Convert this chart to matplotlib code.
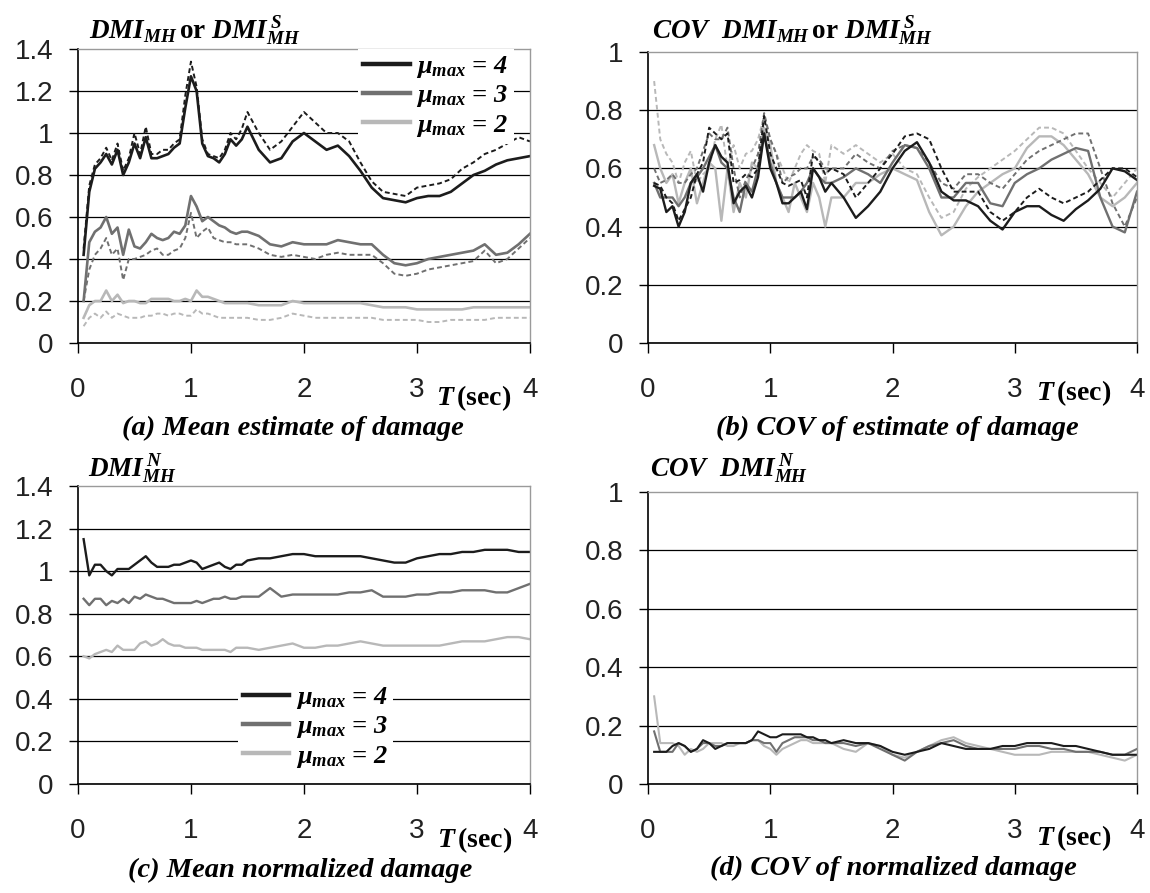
import matplotlib.pyplot as plt
from matplotlib.font_manager import FontProperties
from matplotlib.ticker import FuncFormatter

plt.rcParams['font.family'] = ['Liberation Sans', 'DejaVu Sans']
plt.rcParams['mathtext.fontset'] = 'custom'
plt.rcParams['mathtext.rm'] = 'Liberation Serif:bold'
plt.rcParams['mathtext.it'] = 'Liberation Serif:bold:italic'
plt.rcParams['mathtext.bf'] = 'Liberation Serif:bold'

# period grid (sec)
period = [0.05, 0.10, 0.15, 0.20, 0.25, 0.30, 0.35, 0.40, 0.45, 0.50,
          0.55, 0.60, 0.65, 0.70, 0.75, 0.80, 0.85, 0.90, 0.95, 1.00,
          1.05, 1.10, 1.15, 1.20, 1.25, 1.30, 1.35, 1.40, 1.45, 1.50,
          1.6, 1.7, 1.8, 1.9, 2.0, 2.1, 2.2, 2.3, 2.4, 2.5,
          2.6, 2.7, 2.8, 2.9, 3.0, 3.1, 3.2, 3.3, 3.4, 3.5,
          3.6, 3.7, 3.8, 3.9, 4.0]

# (a) mean damage estimate: DMI_MH (solid) and DMI^S_MH (dashed)
dmi_mu4 = [0.42, 0.72, 0.83, 0.86, 0.90, 0.85, 0.92, 0.80, 0.86, 0.95,
           0.88, 0.98, 0.88, 0.88, 0.89, 0.90, 0.93, 0.95, 1.12, 1.27,
           1.20, 0.95, 0.89, 0.88, 0.86, 0.90, 0.97, 0.94, 0.97, 1.03,
           0.92, 0.86, 0.88, 0.96, 1.00, 0.96, 0.92, 0.94, 0.89, 0.82,
           0.74, 0.69, 0.68, 0.67, 0.69, 0.70, 0.70, 0.72, 0.76, 0.80,
           0.82, 0.85, 0.87, 0.88, 0.89]
dmi_s_mu4 = [0.45, 0.75, 0.85, 0.88, 0.93, 0.87, 0.95, 0.82, 0.88, 1.00,
             0.90, 1.03, 0.90, 0.90, 0.92, 0.92, 0.95, 0.97, 1.18, 1.34,
             1.22, 0.97, 0.90, 0.89, 0.88, 0.92, 1.00, 0.97, 1.02, 1.10,
             1.00, 0.92, 0.96, 1.03, 1.10, 1.05, 1.00, 1.00, 0.96, 0.86,
             0.77, 0.72, 0.71, 0.70, 0.74, 0.75, 0.76, 0.78, 0.83, 0.86,
             0.90, 0.92, 0.95, 0.98, 0.96]
dmi_mu3 = [0.20, 0.48, 0.53, 0.55, 0.60, 0.52, 0.55, 0.42, 0.54, 0.46,
           0.45, 0.48, 0.52, 0.50, 0.49, 0.50, 0.53, 0.52, 0.56, 0.70,
           0.65, 0.58, 0.60, 0.58, 0.56, 0.55, 0.53, 0.52, 0.53, 0.53,
           0.51, 0.47, 0.46, 0.48, 0.47, 0.47, 0.47, 0.49, 0.48, 0.47,
           0.47, 0.42, 0.38, 0.37, 0.38, 0.40, 0.41, 0.42, 0.43, 0.44,
           0.47, 0.42, 0.43, 0.47, 0.52]
dmi_s_mu3 = [0.20, 0.35, 0.42, 0.45, 0.50, 0.42, 0.45, 0.30, 0.40, 0.40,
             0.41, 0.42, 0.44, 0.45, 0.42, 0.42, 0.44, 0.45, 0.50, 0.62,
             0.50, 0.53, 0.55, 0.50, 0.49, 0.48, 0.48, 0.47, 0.47, 0.47,
             0.45, 0.42, 0.41, 0.42, 0.41, 0.40, 0.42, 0.43, 0.42, 0.42,
             0.42, 0.38, 0.33, 0.32, 0.33, 0.35, 0.36, 0.37, 0.38, 0.39,
             0.44, 0.38, 0.40, 0.45, 0.50]
dmi_mu2 = [0.12, 0.18, 0.20, 0.20, 0.25, 0.20, 0.23, 0.19, 0.20, 0.20,
           0.19, 0.19, 0.21, 0.21, 0.21, 0.21, 0.20, 0.20, 0.21, 0.20,
           0.25, 0.22, 0.22, 0.21, 0.20, 0.19, 0.19, 0.19, 0.19, 0.19,
           0.18, 0.18, 0.18, 0.20, 0.19, 0.19, 0.19, 0.19, 0.19, 0.19,
           0.18, 0.17, 0.17, 0.17, 0.16, 0.16, 0.16, 0.16, 0.16, 0.17,
           0.17, 0.17, 0.17, 0.17, 0.17]
dmi_s_mu2 = [0.08, 0.12, 0.14, 0.12, 0.15, 0.12, 0.14, 0.13, 0.12, 0.12,
             0.12, 0.13, 0.13, 0.14, 0.14, 0.13, 0.14, 0.14, 0.13, 0.13,
             0.16, 0.14, 0.14, 0.13, 0.12, 0.12, 0.12, 0.12, 0.12, 0.12,
             0.11, 0.11, 0.12, 0.14, 0.13, 0.12, 0.12, 0.12, 0.12, 0.12,
             0.12, 0.11, 0.11, 0.11, 0.11, 0.10, 0.10, 0.11, 0.11, 0.11,
             0.11, 0.12, 0.12, 0.12, 0.12]

# (b) COV of damage estimate
cov_mu4 = [0.54, 0.53, 0.45, 0.47, 0.40, 0.45, 0.55, 0.58, 0.52, 0.62,
           0.68, 0.64, 0.62, 0.48, 0.52, 0.54, 0.50, 0.57, 0.72, 0.60,
           0.55, 0.48, 0.48, 0.50, 0.52, 0.46, 0.60, 0.57, 0.52, 0.55,
           0.50, 0.43, 0.47, 0.52, 0.60, 0.66, 0.69, 0.62, 0.52, 0.49,
           0.49, 0.47, 0.42, 0.39, 0.45, 0.47, 0.47, 0.44, 0.42, 0.46,
           0.49, 0.53, 0.60, 0.59, 0.56]
cov_s_mu4 = [0.55, 0.54, 0.50, 0.48, 0.42, 0.46, 0.50, 0.58, 0.62, 0.74,
             0.72, 0.70, 0.72, 0.55, 0.56, 0.58, 0.57, 0.60, 0.78, 0.65,
             0.60, 0.55, 0.54, 0.55, 0.56, 0.50, 0.65, 0.62, 0.58, 0.60,
             0.58, 0.50, 0.55, 0.60, 0.65, 0.71, 0.72, 0.70, 0.60, 0.52,
             0.52, 0.52, 0.45, 0.42, 0.45, 0.50, 0.53, 0.50, 0.48, 0.50,
             0.52, 0.56, 0.60, 0.60, 0.57]
cov_mu3 = [0.55, 0.50, 0.50, 0.50, 0.47, 0.50, 0.55, 0.57, 0.60, 0.64,
           0.68, 0.62, 0.60, 0.50, 0.45, 0.55, 0.52, 0.60, 0.72, 0.62,
           0.55, 0.50, 0.50, 0.50, 0.52, 0.55, 0.60, 0.57, 0.55, 0.55,
           0.57, 0.60, 0.58, 0.55, 0.62, 0.68, 0.67, 0.60, 0.50, 0.50,
           0.55, 0.55, 0.48, 0.47, 0.55, 0.58, 0.60, 0.63, 0.65, 0.67,
           0.66, 0.50, 0.40, 0.38, 0.52]
cov_s_mu3 = [0.60, 0.55, 0.56, 0.58, 0.55, 0.55, 0.58, 0.60, 0.66, 0.72,
             0.70, 0.70, 0.74, 0.60, 0.50, 0.56, 0.60, 0.65, 0.79, 0.70,
             0.65, 0.55, 0.57, 0.58, 0.60, 0.60, 0.64, 0.63, 0.60, 0.60,
             0.60, 0.65, 0.62, 0.60, 0.66, 0.68, 0.67, 0.62, 0.55, 0.53,
             0.58, 0.58, 0.55, 0.53, 0.58, 0.63, 0.66, 0.68, 0.70, 0.72,
             0.72, 0.60, 0.48, 0.40, 0.50]
cov_mu2 = [0.68, 0.60, 0.55, 0.58, 0.48, 0.55, 0.60, 0.48, 0.55, 0.62,
           0.60, 0.42, 0.60, 0.45, 0.55, 0.50, 0.62, 0.60, 0.74, 0.68,
           0.55, 0.50, 0.45, 0.55, 0.50, 0.45, 0.55, 0.50, 0.40, 0.50,
           0.50, 0.55, 0.55, 0.58, 0.60, 0.58, 0.56, 0.45, 0.37, 0.40,
           0.47, 0.52, 0.55, 0.58, 0.60, 0.67, 0.71, 0.71, 0.68, 0.63,
           0.58, 0.50, 0.47, 0.50, 0.55]
cov_s_mu2 = [0.90, 0.70, 0.65, 0.62, 0.55, 0.62, 0.66, 0.55, 0.58, 0.60,
             0.70, 0.75, 0.60, 0.68, 0.60, 0.65, 0.66, 0.70, 0.78, 0.70,
             0.65, 0.60, 0.55, 0.60, 0.65, 0.68, 0.66, 0.65, 0.55, 0.68,
             0.65, 0.68, 0.65, 0.62, 0.65, 0.60, 0.58, 0.50, 0.43, 0.45,
             0.53, 0.57, 0.60, 0.63, 0.66, 0.70, 0.74, 0.74, 0.72, 0.66,
             0.60, 0.55, 0.50, 0.55, 0.60]

# (c) mean normalized damage DMI^N_MH
dmin_mu4 = [1.15, 0.98, 1.03, 1.03, 1.00, 0.98, 1.01, 1.01, 1.01, 1.03,
            1.05, 1.07, 1.04, 1.02, 1.02, 1.02, 1.03, 1.03, 1.04, 1.05,
            1.04, 1.01, 1.02, 1.03, 1.04, 1.02, 1.01, 1.03, 1.03, 1.05,
            1.06, 1.06, 1.07, 1.08, 1.08, 1.07, 1.07, 1.07, 1.07, 1.07,
            1.06, 1.05, 1.04, 1.04, 1.06, 1.07, 1.08, 1.08, 1.09, 1.09,
            1.10, 1.10, 1.10, 1.09, 1.09]
dmin_mu3 = [0.87, 0.84, 0.87, 0.87, 0.84, 0.86, 0.85, 0.87, 0.85, 0.88,
            0.87, 0.89, 0.88, 0.87, 0.87, 0.86, 0.85, 0.85, 0.85, 0.85,
            0.86, 0.85, 0.86, 0.87, 0.87, 0.88, 0.87, 0.87, 0.88, 0.88,
            0.88, 0.92, 0.88, 0.89, 0.89, 0.89, 0.89, 0.89, 0.90, 0.90,
            0.91, 0.88, 0.88, 0.88, 0.89, 0.89, 0.90, 0.90, 0.91, 0.91,
            0.91, 0.90, 0.90, 0.92, 0.94]
dmin_mu2 = [0.60, 0.59, 0.61, 0.62, 0.63, 0.62, 0.65, 0.63, 0.63, 0.63,
            0.66, 0.67, 0.65, 0.66, 0.68, 0.66, 0.65, 0.65, 0.64, 0.64,
            0.64, 0.63, 0.63, 0.63, 0.63, 0.63, 0.62, 0.64, 0.64, 0.64,
            0.63, 0.64, 0.65, 0.66, 0.64, 0.64, 0.65, 0.65, 0.66, 0.67,
            0.66, 0.65, 0.65, 0.65, 0.65, 0.65, 0.65, 0.66, 0.67, 0.67,
            0.67, 0.68, 0.69, 0.69, 0.68]

# (d) COV of normalized damage
cov_n_mu4 = [0.11, 0.11, 0.11, 0.13, 0.14, 0.13, 0.11, 0.12, 0.15, 0.14,
             0.12, 0.13, 0.14, 0.14, 0.14, 0.14, 0.15, 0.18, 0.17, 0.16,
             0.16, 0.17, 0.17, 0.17, 0.17, 0.16, 0.16, 0.15, 0.15, 0.14,
             0.15, 0.14, 0.14, 0.13, 0.11, 0.10, 0.11, 0.12, 0.14, 0.13,
             0.12, 0.12, 0.12, 0.13, 0.13, 0.14, 0.14, 0.14, 0.13, 0.13,
             0.12, 0.11, 0.10, 0.10, 0.10]
cov_n_mu3 = [0.18, 0.11, 0.11, 0.11, 0.14, 0.13, 0.11, 0.12, 0.14, 0.14,
             0.13, 0.13, 0.14, 0.14, 0.14, 0.14, 0.15, 0.15, 0.14, 0.14,
             0.11, 0.14, 0.15, 0.16, 0.16, 0.16, 0.15, 0.15, 0.14, 0.14,
             0.14, 0.13, 0.14, 0.12, 0.10, 0.08, 0.11, 0.13, 0.14, 0.15,
             0.13, 0.12, 0.12, 0.12, 0.12, 0.13, 0.13, 0.12, 0.12, 0.11,
             0.11, 0.11, 0.10, 0.10, 0.12]
cov_n_mu2 = [0.30, 0.14, 0.14, 0.14, 0.13, 0.10, 0.12, 0.11, 0.12, 0.14,
             0.14, 0.14, 0.13, 0.13, 0.14, 0.14, 0.15, 0.15, 0.13, 0.12,
             0.10, 0.12, 0.13, 0.14, 0.15, 0.15, 0.14, 0.14, 0.14, 0.14,
             0.12, 0.11, 0.14, 0.13, 0.10, 0.09, 0.11, 0.13, 0.15, 0.16,
             0.14, 0.13, 0.12, 0.11, 0.10, 0.10, 0.10, 0.11, 0.11, 0.11,
             0.11, 0.10, 0.09, 0.08, 0.10]

ductility = [4, 3, 2]
shades = ['#1c1c1c', '#707070', '#b8b8b8']

serif_bi = FontProperties(family='Liberation Serif', weight='bold', style='italic', size=19)
caption_font = dict(family='Liberation Serif', weight='bold', style='italic', fontsize=20.5)
title_size = 19.5


def style_axes(ax, yticks):
    ax.set_xlim(0, 4)
    ax.set_ylim(0, yticks[-1])
    ax.set_xticks([0, 1, 2, 3, 4])
    ax.set_yticks(yticks)
    ax.yaxis.set_major_formatter(FuncFormatter(lambda v, p: f'{v:g}'))
    ax.tick_params(axis='both', direction='out', labelsize=20, colors='black',
                   labelcolor='#222222', width=1.0)
    ax.tick_params(axis='x', length=7.5, pad=17)
    ax.tick_params(axis='y', length=6.5, pad=11)
    ax.grid(axis='y', color='black', linewidth=0.9)
    ax.yaxis.get_gridlines()[-1].set_visible(False)
    for side in ('top', 'right'):
        ax.spines[side].set_color('#9a9a9a')
        ax.spines[side].set_linewidth(1.0)
    for side in ('left', 'bottom'):
        ax.spines[side].set_color('black')
        ax.spines[side].set_linewidth(1.2)


def period_label(ax, xpos, ypos):
    ax.text(xpos, ypos, r'$T\,\mathrm{(sec)}$', transform=ax.get_xaxis_transform(),
            ha='center', va='center', fontsize=20)


def add_legend(ax, handles, anchor):
    labels = [r'$\mu_{max}$' + f' = {m}' for m in ductility]
    leg = ax.legend(handles, labels, loc='upper left', bbox_to_anchor=anchor,
                    prop=serif_bi, frameon=True, fancybox=False, facecolor='white',
                    edgecolor='none', framealpha=1, handlelength=1.75,
                    handletextpad=0.25, labelspacing=0.12, borderpad=0.2,
                    borderaxespad=0)
    for h in leg.legend_handles:
        h.set_linewidth(3.2)
        h.set_linestyle('-')


fig = plt.figure(figsize=(11.5, 8.93), dpi=100)
ax_a = fig.add_axes([0.0678, 0.6159, 0.3930, 0.3292])
ax_b = fig.add_axes([0.5635, 0.6159, 0.4252, 0.3259])
ax_c = fig.add_axes([0.0678, 0.1221, 0.3930, 0.3337])
ax_d = fig.add_axes([0.5635, 0.1221, 0.4252, 0.3270])

mean_ticks = [0, 0.2, 0.4, 0.6, 0.8, 1.0, 1.2, 1.4]
cov_ticks = [0, 0.2, 0.4, 0.6, 0.8, 1.0]

# (a)
solid_a = [dmi_mu4, dmi_mu3, dmi_mu2]
dashed_a = [dmi_s_mu4, dmi_s_mu3, dmi_s_mu2]
handles_a = []
for sol, das, c in zip(solid_a, dashed_a, shades):
    ax_a.plot(period, das, color=c, lw=1.4, dashes=(2.5, 1.6))
    line, = ax_a.plot(period, sol, color=c, lw=1.9)
    handles_a.append(line)
style_axes(ax_a, mean_ticks)
add_legend(ax_a, handles_a, (0.62, 1.0))
ax_a.text(0.024, 1.034, r'$DMI_{MH}\,\mathrm{or}\ DMI^{\,S}_{MH}$', transform=ax_a.transAxes,
          ha='left', va='baseline', fontsize=title_size)
period_label(ax_a, 3.5, -0.187)
ax_a.text(0.476, -0.289, '(a) Mean estimate of damage', transform=ax_a.transAxes,
          ha='center', va='center', **caption_font)

# (b)
solid_b = [cov_mu4, cov_mu3, cov_mu2]
dashed_b = [cov_s_mu4, cov_s_mu3, cov_s_mu2]
for i in (2, 1, 0):
    ax_b.plot(period, dashed_b[i], color=shades[i], lw=1.4, dashes=(2.5, 1.6))
    ax_b.plot(period, solid_b[i], color=shades[i], lw=1.7)
style_axes(ax_b, cov_ticks)
ax_b.text(0.008, 1.045, r'$COV\ \ DMI_{MH}\,\mathrm{or}\ DMI^{\,S}_{MH}$', transform=ax_b.transAxes,
          ha='left', va='baseline', fontsize=title_size)
period_label(ax_b, 3.48, -0.172)
ax_b.text(0.509, -0.292, '(b) COV of estimate of damage', transform=ax_b.transAxes,
          ha='center', va='center', **caption_font)

# (c)
handles_c = []
for vals, c in zip([dmin_mu4, dmin_mu3, dmin_mu2], shades):
    line, = ax_c.plot(period, vals, color=c, lw=1.7)
    handles_c.append(line)
style_axes(ax_c, mean_ticks)
add_legend(ax_c, handles_c, (0.354, 0.349))
ax_c.text(0.022, 1.030, r'$DMI^{\,N}_{MH}$', transform=ax_c.transAxes,
          ha='left', va='baseline', fontsize=title_size)
period_label(ax_c, 3.51, -0.188)
ax_c.text(0.491, -0.289, '(c) Mean normalized damage', transform=ax_c.transAxes,
          ha='center', va='center', **caption_font)

# (d)
cov_n = [cov_n_mu4, cov_n_mu3, cov_n_mu2]
for i in (2, 1, 0):
    ax_d.plot(period, cov_n[i], color=shades[i], lw=1.5)
style_axes(ax_d, cov_ticks)
ax_d.text(0.004, 1.051, r'$COV\ \ DMI^{\,N}_{MH}$', transform=ax_d.transAxes,
          ha='left', va='baseline', fontsize=title_size)
period_label(ax_d, 3.48, -0.185)
ax_d.text(0.501, -0.288, '(d) COV of normalized damage', transform=ax_d.transAxes,
          ha='center', va='center', **caption_font)

fig.savefig('out.png', dpi=100, facecolor='white')
